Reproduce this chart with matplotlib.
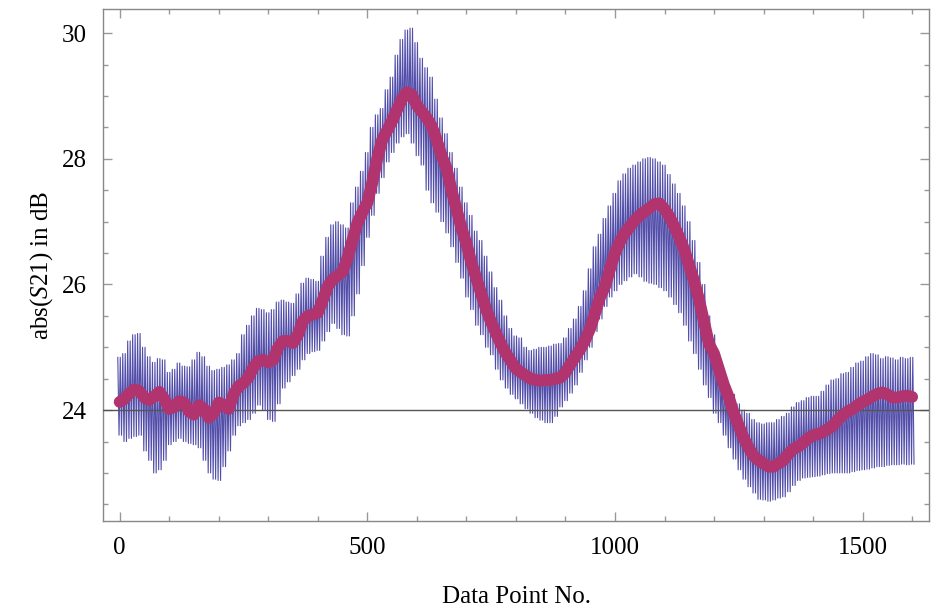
import numpy as np
import matplotlib
matplotlib.use("Agg")
import matplotlib.pyplot as plt
from matplotlib.ticker import MultipleLocator

# sample positions (data point number), every 10 points
points = np.arange(0, 1601, 10)

# upper peaks of the raw trace
raw_hi = [
    24.84, 24.90, 25.10, 25.20, 25.22, 25.00, 24.85, 24.76, 24.82, 24.80,
    24.60, 24.65, 24.75, 24.70, 24.69, 24.80, 24.92, 24.85, 24.70, 24.63,
    24.65, 24.68, 24.72, 24.80, 24.90, 25.20, 25.35, 25.50, 25.62, 25.60,
    25.55, 25.60, 25.72, 25.75, 25.72, 25.70, 25.85, 26.02, 26.10, 26.08,
    26.05, 26.45, 26.75, 26.95, 27.00, 26.95, 26.90, 27.30, 27.55, 27.80,
    28.10, 28.50, 28.70, 28.80, 29.10, 29.30, 29.65, 29.90, 30.05, 30.08,
    29.85, 29.60, 29.45, 29.30, 28.95, 28.65, 28.40, 28.10, 27.85, 27.55,
    27.30, 27.10, 26.85, 26.70, 26.45, 26.20, 25.95, 25.75, 25.50, 25.30,
    25.18, 25.15, 25.00, 24.95, 24.97, 25.00, 25.00, 25.02, 25.05, 25.06,
    25.15, 25.30, 25.45, 25.65, 25.90, 26.25, 26.60, 26.80, 27.05, 27.25,
    27.45, 27.65, 27.76, 27.85, 27.90, 27.95, 28.00, 28.02, 28.00, 27.95,
    27.90, 27.75, 27.60, 27.45, 27.25, 27.00, 26.70, 26.35, 26.00, 25.50,
    25.20, 24.85, 24.55, 24.40, 24.25, 24.10, 24.00, 23.95, 23.85, 23.80,
    23.78, 23.80, 23.80, 23.85, 23.90, 23.95, 24.05, 24.12, 24.15, 24.20,
    24.22, 24.22, 24.30, 24.40, 24.48, 24.50, 24.58, 24.60, 24.68, 24.75,
    24.78, 24.85, 24.90, 24.88, 24.82, 24.85, 24.83, 24.80, 24.84, 24.82,
    24.84,
]

# lower troughs of the raw trace
raw_lo = [
    23.60, 23.50, 23.55, 23.58, 23.60, 23.35, 23.20, 23.00, 23.05, 23.20,
    23.45, 23.50, 23.55, 23.50, 23.47, 23.45, 23.40, 23.20, 23.00, 22.90,
    22.88, 23.10, 23.35, 23.60, 23.75, 23.80, 23.85, 23.95, 24.08, 24.00,
    23.85, 23.82, 24.10, 24.35, 24.45, 24.55, 24.65, 24.80, 24.90, 24.93,
    24.95, 25.10, 25.25, 25.38, 25.30, 25.20, 25.18, 25.50, 25.85, 26.30,
    26.75, 27.10, 27.45, 27.70, 27.95, 28.10, 28.25, 28.35, 28.40, 28.25,
    28.05, 27.90, 27.50, 27.30, 27.15, 27.00, 26.82, 26.60, 26.35, 26.10,
    25.80, 25.60, 25.35, 25.20, 25.00, 24.88, 24.65, 24.48, 24.35, 24.25,
    24.18, 24.10, 24.02, 23.95, 23.88, 23.84, 23.80, 23.80, 23.90, 24.05,
    24.15, 24.27, 24.40, 24.60, 24.80, 25.00, 25.25, 25.45, 25.65, 25.80,
    25.90, 26.00, 26.06, 26.12, 26.17, 26.12, 26.05, 26.02, 26.00, 25.95,
    25.90, 25.80, 25.68, 25.55, 25.35, 25.10, 24.90, 24.65, 24.40, 24.20,
    23.95, 23.80, 23.60, 23.40, 23.22, 23.05, 22.90, 22.78, 22.68, 22.58,
    22.57, 22.55, 22.57, 22.60, 22.62, 22.70, 22.80, 22.88, 22.92, 22.93,
    22.94, 22.95, 22.97, 22.99, 23.00, 23.00, 23.00, 23.00, 23.02, 23.04,
    23.05, 23.06, 23.08, 23.10, 23.10, 23.12, 23.13, 23.13, 23.14, 23.13,
    23.14,
]

# smoothed curve
smooth = [
    24.13, 24.18, 24.27, 24.33, 24.30, 24.20, 24.16, 24.22, 24.29, 24.18,
    24.02, 24.05, 24.14, 24.12, 23.98, 23.93, 24.08, 24.02, 23.88, 23.95,
    24.12, 24.08, 24.02, 24.25, 24.38, 24.43, 24.52, 24.68, 24.78, 24.80,
    24.76, 24.80, 25.00, 25.10, 25.10, 25.07, 25.20, 25.42, 25.50, 25.52,
    25.55, 25.75, 25.97, 26.08, 26.14, 26.20, 26.42, 26.70, 26.98, 27.15,
    27.30, 27.62, 28.00, 28.30, 28.45, 28.60, 28.78, 28.95, 29.06, 29.02,
    28.85, 28.75, 28.65, 28.52, 28.30, 28.05, 27.85, 27.50, 27.20, 26.90,
    26.65, 26.35, 26.10, 25.85, 25.60, 25.40, 25.22, 25.05, 24.90, 24.78,
    24.66, 24.60, 24.55, 24.50, 24.48, 24.47, 24.48, 24.48, 24.50, 24.52,
    24.60, 24.73, 24.85, 24.97, 25.12, 25.30, 25.55, 25.80, 25.97, 26.25,
    26.50, 26.68, 26.82, 26.92, 27.02, 27.10, 27.16, 27.22, 27.28, 27.29,
    27.20, 27.08, 26.92, 26.75, 26.55, 26.30, 26.05, 25.75, 25.40, 25.05,
    24.90, 24.65, 24.40, 24.20, 23.95, 23.75, 23.55, 23.40, 23.27, 23.20,
    23.15, 23.10, 23.10, 23.15, 23.20, 23.30, 23.38, 23.42, 23.48, 23.55,
    23.60, 23.62, 23.65, 23.70, 23.75, 23.85, 23.92, 23.98, 24.02, 24.08,
    24.13, 24.17, 24.22, 24.26, 24.28, 24.25, 24.20, 24.20, 24.22, 24.23,
    24.21,
]

plt.rcParams['font.family'] = ['Liberation Serif', 'DejaVu Serif']
plt.rcParams['mathtext.fontset'] = 'custom'
plt.rcParams['mathtext.rm'] = 'Liberation Serif'
plt.rcParams['mathtext.it'] = 'Liberation Serif:italic'

fig = plt.figure(figsize=(9.4, 6.09), dpi=100)
ax = fig.add_axes([0.1099, 0.145, 0.8784, 0.8398])

# raw trace: each sample drawn as two quick up/down swings
p = np.asarray(points, dtype=float)
hi = np.asarray(raw_hi)
lo = np.asarray(raw_lo)
zx = np.column_stack([p - 3.75, p - 1.25, p + 1.25, p + 3.75]).ravel()
zy = np.column_stack([hi, lo, hi, lo]).ravel()
ax.plot(zx, zy, color='#3a359e', lw=0.8, alpha=0.88, zorder=2)

ax.axhline(24, color='#555555', lw=1.0, zorder=3)

ax.plot(points, smooth, color='#b2346e', lw=8.5, solid_capstyle='round',
        solid_joinstyle='round', zorder=4)

ax.set_xlim(-33, 1634)
ax.set_ylim(22.24, 30.38)
ax.xaxis.set_major_locator(MultipleLocator(500))
ax.xaxis.set_minor_locator(MultipleLocator(100))
ax.yaxis.set_major_locator(MultipleLocator(2))
ax.yaxis.set_minor_locator(MultipleLocator(0.5))
ax.tick_params(which='both', direction='in', top=True, right=True,
               color='#999999', width=1.0, labelsize=18, pad=12)
ax.tick_params(which='major', length=6.5)
ax.tick_params(which='minor', length=3.6)
for s in ax.spines.values():
    s.set_color('#888888')
    s.set_linewidth(1.0)

ax.set_xlabel('Data Point No.', fontsize=18, labelpad=19)
ax.set_ylabel('abs($S$21) in dB', fontsize=18, labelpad=5)

fig.savefig('out.png', dpi=100)
